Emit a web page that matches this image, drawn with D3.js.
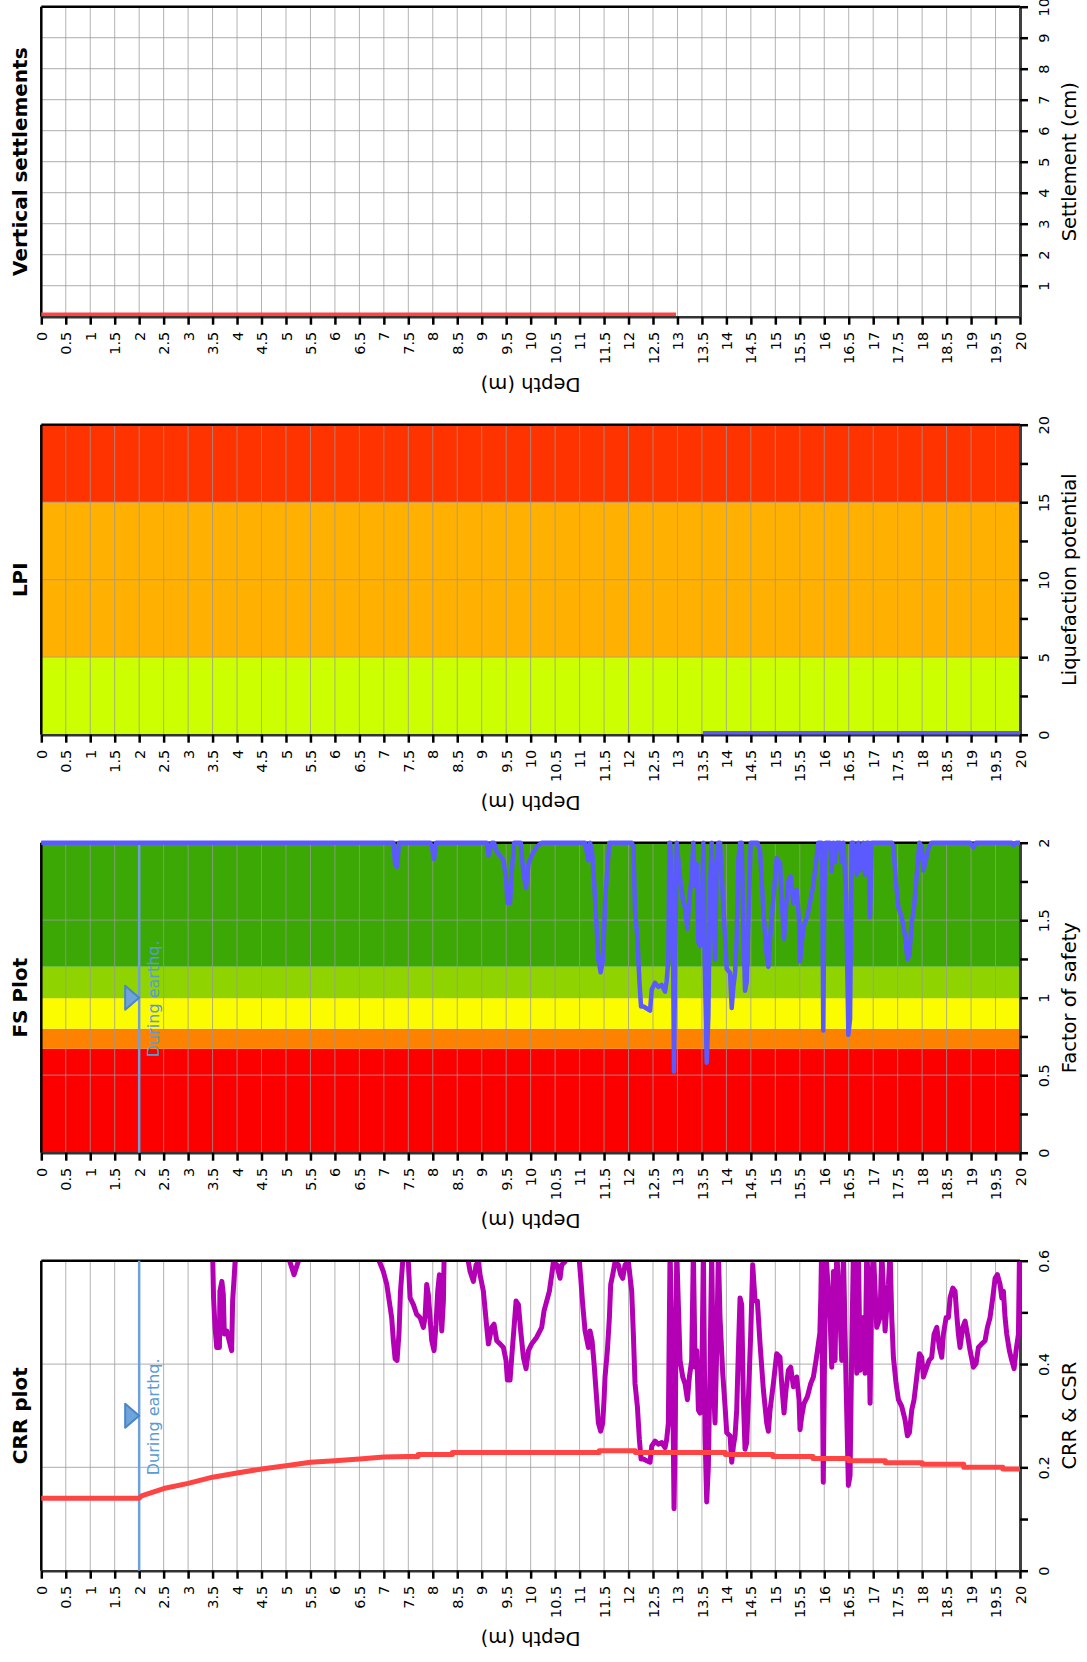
<!DOCTYPE html>
<html>
<head>
<meta charset="utf-8">
<script src="https://cdn.jsdelivr.net/npm/d3@7"></script>
<style>
  body { margin: 0; background: #fff; }
  svg { display: block; font-family: "DejaVu Sans", Verdana, sans-serif; }
</style>
</head>
<body>
<div id="chart"></div>
<script>
// ---- data ----
const depthTicks = [0, 0.5, 1, 1.5, 2, 2.5, 3, 3.5, 4, 4.5, 5, 5.5, 6, 6.5, 7, 7.5, 8, 8.5, 9, 9.5,
  10, 10.5, 11, 11.5, 12, 12.5, 13, 13.5, 14, 14.5, 15, 15.5, 16, 16.5, 17, 17.5, 18, 18.5, 19, 19.5, 20];

const settlementTicks = [1, 2, 3, 4, 5, 6, 7, 8, 9, 10];
const settlementDepth = [0, 12.97];
const settlementValue = [0.08, 0.08];

const lpiTicks = [0, 5, 10, 15, 20];
const lpiMinorTicks = [2.5, 7.5, 12.5, 17.5];
const lpiBandEdges = [0, 5, 15, 20];
const lpiBandColors = ["#ccff00", "#ffb000", "#ff3300"];
const lpiDepth = [13.52, 20];
const lpiValue = [0.13, 0.13];

const fsTicks = [0, 0.5, 1, 1.5, 2];
const fsMinorTicks = [0.25, 0.75, 1.25, 1.75];
const fsBandEdges = [0, 0.67, 0.8, 1.0, 1.2, 2];
const fsBandColors = ["#fc0000", "#fc8200", "#fcfc00", "#8fd400", "#3ca805"];
const fsMax = 2;

const crrTicks = [0, 0.2, 0.4, 0.6];
const crrMinorTicks = [0.1, 0.3, 0.5];

const quakeDepth = 2;

// CRR (purple), values above 0.6 run off the top of the plot
const crrDepth = [
  0, 3.50, 3.52, 3.55, 3.585, 3.64, 3.65, 3.69, 3.72, 3.74,
  3.79, 3.84, 3.89, 3.91, 3.94, 3.96, 3.98, 5.06, 5.08, 5.165,
  5.25, 5.27, 6.89, 6.91, 6.99, 7.06, 7.11, 7.16, 7.195, 7.23,
  7.27, 7.31, 7.34, 7.385, 7.40, 7.48, 7.50, 7.536, 7.604, 7.672,
  7.74, 7.808, 7.842, 7.876, 7.91, 7.944, 7.979, 8.026, 8.067, 8.101,
  8.135, 8.162, 8.183, 8.217, 8.23, 8.25, 8.71, 8.728, 8.762, 8.83,
  8.885, 8.93, 8.966, 9.034, 9.103, 9.137, 9.205, 9.252, 9.307, 9.375,
  9.443, 9.497, 9.525, 9.579, 9.613, 9.661, 9.702, 9.75, 9.797, 9.852,
  9.906, 9.954, 10.022, 10.124, 10.226, 10.274, 10.329, 10.383, 10.431, 10.465,
  10.533, 10.601, 10.635, 10.703, 10.72, 10.98, 10.996, 11.024, 11.064, 11.112,
  11.18, 11.214, 11.255, 11.296, 11.35, 11.384, 11.43, 11.473, 11.50, 11.52,
  11.568, 11.609, 11.636, 11.677, 11.725, 11.793, 11.84, 11.881, 11.929, 11.997,
  12.065, 12.099, 12.133, 12.181, 12.222, 12.256, 12.304, 12.372, 12.44, 12.474,
  12.542, 12.61, 12.678, 12.746, 12.78, 12.814, 12.835, 12.849, 12.903, 12.93,
  12.957, 12.985, 13.053, 13.107, 13.155, 13.203, 13.244, 13.291, 13.325, 13.36,
  13.394, 13.428, 13.462, 13.496, 13.53, 13.564, 13.598, 13.632, 13.666, 13.70,
  13.734, 13.768, 13.802, 13.836, 13.87, 13.925, 13.973, 14.007, 14.075, 14.109,
  14.143, 14.177, 14.211, 14.245, 14.279, 14.313, 14.347, 14.381, 14.415, 14.449,
  14.497, 14.538, 14.586, 14.633, 14.688, 14.756, 14.824, 14.858, 14.892, 14.96,
  15.028, 15.096, 15.13, 15.178, 15.219, 15.267, 15.314, 15.369, 15.437, 15.485,
  15.505, 15.539, 15.587, 15.655, 15.723, 15.778, 15.832, 15.88, 15.91, 15.93,
  15.945, 15.96, 15.98, 16.0, 16.03, 16.119, 16.153, 16.187, 16.221, 16.255,
  16.323, 16.357, 16.391, 16.446, 16.493, 16.527, 16.561, 16.596, 16.664, 16.698,
  16.732, 16.80, 16.834, 16.868, 16.902, 16.936, 16.97, 17.004, 17.072, 17.14,
  17.175, 17.243, 17.311, 17.345, 17.379, 17.413, 17.468, 17.515, 17.583, 17.651,
  17.699, 17.74, 17.788, 17.835, 17.89, 17.944, 17.992, 18.026, 18.094, 18.142,
  18.196, 18.244, 18.299, 18.353, 18.401, 18.435, 18.49, 18.537, 18.571, 18.626,
  18.673, 18.707, 18.741, 18.775, 18.83, 18.878, 18.925, 18.98, 19.048, 19.102,
  19.15, 19.218, 19.286, 19.334, 19.388, 19.443, 19.491, 19.538, 19.593, 19.627,
  19.661, 19.695, 19.729, 19.783, 19.831, 19.879, 19.92, 19.968, 19.99, 20.0
];
const crrValue = [
  0.62, 0.62, 0.528, 0.471, 0.432, 0.432, 0.541, 0.560, 0.534, 0.458,
  0.464, 0.445, 0.426, 0.522, 0.566, 0.598, 0.62, 0.62, 0.598, 0.573,
  0.598, 0.62, 0.62, 0.598, 0.579, 0.554, 0.522, 0.490, 0.445, 0.410,
  0.407, 0.46, 0.54, 0.598, 0.62, 0.62, 0.598, 0.528, 0.515, 0.496,
  0.490, 0.471, 0.490, 0.554, 0.534, 0.490, 0.445, 0.426, 0.477, 0.541,
  0.573, 0.528, 0.464, 0.522, 0.598, 0.62, 0.62, 0.598, 0.579, 0.560,
  0.592, 0.598, 0.573, 0.541, 0.471, 0.439, 0.471, 0.477, 0.445, 0.439,
  0.432, 0.407, 0.369, 0.369, 0.413, 0.471, 0.522, 0.515, 0.464, 0.413,
  0.391, 0.426, 0.439, 0.452, 0.471, 0.503, 0.522, 0.541, 0.573, 0.598,
  0.592, 0.566, 0.592, 0.598, 0.62, 0.62, 0.598, 0.566, 0.515, 0.464,
  0.432, 0.464, 0.445, 0.401, 0.331, 0.286, 0.270, 0.286, 0.331, 0.375,
  0.426, 0.490, 0.554, 0.573, 0.598, 0.592, 0.573, 0.566, 0.592, 0.598,
  0.541, 0.458, 0.362, 0.318, 0.254, 0.216, 0.216, 0.213, 0.210, 0.241,
  0.251, 0.245, 0.248, 0.238, 0.254, 0.286, 0.490, 0.62, 0.362, 0.120,
  0.299, 0.62, 0.407, 0.375, 0.362, 0.331, 0.375, 0.407, 0.62, 0.394,
  0.426, 0.311, 0.305, 0.362, 0.62, 0.261, 0.133, 0.203, 0.394, 0.62,
  0.362, 0.286, 0.426, 0.62, 0.490, 0.382, 0.318, 0.267, 0.261, 0.210,
  0.241, 0.261, 0.311, 0.426, 0.528, 0.515, 0.331, 0.235, 0.248, 0.331,
  0.458, 0.592, 0.522, 0.522, 0.439, 0.350, 0.286, 0.270, 0.311, 0.362,
  0.420, 0.413, 0.362, 0.305, 0.350, 0.388, 0.394, 0.356, 0.375, 0.331,
  0.273, 0.299, 0.324, 0.337, 0.362, 0.375, 0.407, 0.439, 0.46, 0.53,
  0.62, 0.40, 0.171, 0.36, 0.62, 0.490, 0.394, 0.579, 0.407, 0.62,
  0.490, 0.407, 0.62, 0.362, 0.165, 0.184, 0.426, 0.62, 0.382, 0.62,
  0.388, 0.490, 0.382, 0.62, 0.554, 0.324, 0.554, 0.62, 0.471, 0.490,
  0.62, 0.464, 0.554, 0.62, 0.490, 0.413, 0.362, 0.331, 0.318, 0.292,
  0.261, 0.267, 0.311, 0.331, 0.375, 0.420, 0.413, 0.375, 0.394, 0.407,
  0.413, 0.458, 0.471, 0.432, 0.413, 0.458, 0.490, 0.490, 0.528, 0.547,
  0.541, 0.496, 0.458, 0.432, 0.471, 0.483, 0.458, 0.426, 0.394, 0.401,
  0.432, 0.439, 0.445, 0.471, 0.490, 0.528, 0.566, 0.573, 0.554, 0.528,
  0.541, 0.490, 0.458, 0.426, 0.407, 0.391, 0.426, 0.458, 0.62, 0.62
];

// CSR (red), stepped
const csrDepth = [0, 2.0, 2.05, 2.5, 3.0, 3.5, 4.0, 4.5, 5.0, 5.5, 6.0, 6.5, 7.0, 7.5,
  7.7, 7.7, 8.4, 8.4, 11.4, 11.4, 12.14, 12.14, 13.98, 13.98, 14.95, 14.95,
  15.77, 15.77, 16.5, 16.5, 17.25, 17.25, 18.0, 18.0, 18.85, 18.85, 19.65, 19.65, 20];
const csrValue = [0.14, 0.14, 0.145, 0.159, 0.169, 0.181, 0.189, 0.197, 0.203, 0.21, 0.213, 0.216, 0.22, 0.221,
  0.221, 0.225, 0.225, 0.229, 0.229, 0.232, 0.232, 0.229, 0.229, 0.225, 0.225, 0.221,
  0.221, 0.217, 0.217, 0.213, 0.213, 0.209, 0.209, 0.206, 0.206, 0.2, 0.2, 0.197, 0.197];

// ---- helpers ----
function zipPts(a, b) {
  const n = Math.min(a.length, b.length);
  return d3.range(n).map(i => [a[i], b[i]]);
}
function csrAt(d) {
  const i = d3.bisectRight(csrDepth, d) - 1;
  if (i < 0) return csrValue[0];
  if (i >= csrDepth.length - 1) return csrValue[csrValue.length - 1];
  const d0 = csrDepth[i], d1 = csrDepth[i + 1];
  const t = d1 === d0 ? 0 : (d - d0) / (d1 - d0);
  return csrValue[i] + t * (csrValue[i + 1] - csrValue[i]);
}

const crrPts = zipPts(crrDepth, crrValue);
const csrPts = zipPts(csrDepth, csrValue);
// factor of safety = CRR / CSR, capped at the top of the plot
const fsPts = crrPts.map(p => [p[0], Math.min(fsMax, p[1] / csrAt(p[0]))]);

// ---- layout ----
const W = 1087, H = 1662;
const plotL = 41.3, plotR = 1020, plotH = 310;
const panelTop = [6.7, 424.7, 842.7, 1260.7];
const tickFont = 14.5;

const svg = d3.select("#chart").append("svg")
  .attr("width", W).attr("height", H);

const x = d3.scaleLinear().domain([0, 20]).range([plotL, plotR]);

function makeBands(edges, colors) {
  return colors.map((c, i) => ({from: edges[i], to: edges[i + 1], color: c}));
}

const panels = [
  {title: "Vertical settlements", yLabel: "Settlement (cm)", domain: [0, 10],
   labelTicks: settlementTicks, minorTicks: [], grid: settlementTicks.slice(0, -1),
   series: [{pts: zipPts(settlementDepth, settlementValue), color: "#ff4444", width: 3.5}]},
  {title: "LPI", yLabel: "Liquefaction potential", domain: [0, 20],
   labelTicks: lpiTicks, minorTicks: lpiMinorTicks, grid: [5, 10, 15],
   bands: makeBands(lpiBandEdges, lpiBandColors),
   series: [{pts: zipPts(lpiDepth, lpiValue), color: "#5a5aff", width: 3.5}]},
  {title: "FS Plot", yLabel: "Factor of safety", domain: [0, 2],
   labelTicks: fsTicks, minorTicks: fsMinorTicks, grid: [0.5, 1, 1.5],
   bands: makeBands(fsBandEdges, fsBandColors), quake: true,
   series: [{pts: fsPts, color: "#5a5aff", width: 4.5}]},
  {title: "CRR plot", yLabel: "CRR & CSR", domain: [0, 0.6],
   labelTicks: crrTicks, minorTicks: crrMinorTicks, grid: [0.2, 0.4], quake: true, clip: true,
   series: [{pts: crrPts, color: "#b400b4", width: 5}, {pts: csrPts, color: "#ff4444", width: 5}]}
];

panels.forEach((p, i) => {
  const top = panelTop[i], bottom = top + plotH, mid = (top + bottom) / 2;
  const y = d3.scaleLinear().domain(p.domain).range([bottom, top]);
  const g = svg.append("g");

  // coloured background bands
  if (p.bands) {
    g.selectAll("rect.band").data(p.bands).join("rect")
      .attr("class", "band")
      .attr("x", plotL).attr("width", plotR - plotL)
      .attr("y", d => y(d.to)).attr("height", d => y(d.from) - y(d.to))
      .attr("fill", d => d.color);
  }

  // grid
  g.selectAll("line.vgrid").data(depthTicks.slice(1, -1)).join("line")
    .attr("class", "vgrid")
    .attr("x1", d => x(d)).attr("x2", d => x(d))
    .attr("y1", top).attr("y2", bottom)
    .attr("stroke", "#9a9a9a").attr("stroke-opacity", 0.75).attr("stroke-width", 1);
  g.selectAll("line.hgrid").data(p.grid).join("line")
    .attr("class", "hgrid")
    .attr("x1", plotL).attr("x2", plotR)
    .attr("y1", d => y(d)).attr("y2", d => y(d))
    .attr("stroke", "#9a9a9a").attr("stroke-opacity", 0.65).attr("stroke-width", 1.2);

  // frame (top + left)
  g.append("line").attr("x1", plotL).attr("x2", plotR).attr("y1", top).attr("y2", top)
    .attr("stroke", "#000").attr("stroke-width", 2.5);
  g.append("line").attr("x1", plotL).attr("x2", plotL).attr("y1", top).attr("y2", bottom)
    .attr("stroke", "#000").attr("stroke-width", 2.5);

  // depth axis (bottom)
  const ax = g.append("g").attr("transform", `translate(0,${bottom})`)
    .call(d3.axisBottom(x).tickValues(depthTicks).tickFormat(d => String(d))
      .tickSize(8).tickSizeOuter(0));
  ax.attr("font-family", null).attr("font-size", tickFont);
  ax.select(".domain").attr("stroke", "#333").attr("stroke-width", 2.5);
  ax.selectAll(".tick line").attr("stroke", "#000").attr("stroke-width", 2.5);
  ax.selectAll(".tick text")
    .attr("transform", "rotate(-90)")
    .attr("x", -15).attr("y", 0).attr("dy", "0.35em")
    .attr("text-anchor", "end").attr("fill", "#000");

  // value axis (right)
  const allTicks = p.labelTicks.concat(p.minorTicks).sort((a, b) => a - b);
  const ay = g.append("g").attr("transform", `translate(${plotR},0)`)
    .call(d3.axisRight(y).tickValues(allTicks)
      .tickFormat(d => p.labelTicks.includes(d) ? String(d) : "")
      .tickSize(8).tickSizeOuter(0));
  ay.attr("font-family", null).attr("font-size", tickFont);
  ay.select(".domain").attr("stroke", "#404040").attr("stroke-width", 3);
  ay.selectAll(".tick line").attr("stroke", "#000").attr("stroke-width", 2.5);
  ay.selectAll(".tick text")
    .attr("transform", "rotate(-90)")
    .attr("x", 0).attr("y", 29).attr("dy", 0)
    .attr("text-anchor", "middle").attr("fill", "#000");

  // "During earthq." water table line
  if (p.quake) {
    g.append("line")
      .attr("x1", x(quakeDepth)).attr("x2", x(quakeDepth))
      .attr("y1", top).attr("y2", bottom)
      .attr("stroke", "#6fa0dc").attr("stroke-width", 2.5);
  }

  // data lines
  let lg = g.append("g");
  if (p.clip) {
    const id = "clip" + i;
    svg.append("clipPath").attr("id", id).append("rect")
      .attr("x", plotL - 5).attr("y", top + 1)
      .attr("width", plotR - plotL + 10).attr("height", plotH + 5);
    lg.attr("clip-path", `url(#${id})`);
  }
  const line = d3.line().x(d => x(d[0])).y(d => y(d[1]));
  p.series.forEach(s => {
    lg.append("path").datum(s.pts)
      .attr("d", line)
      .attr("fill", "none")
      .attr("stroke", s.color)
      .attr("stroke-width", s.width)
      .attr("stroke-linejoin", "round");
  });

  // water table marker + label
  if (p.quake) {
    const xq = x(quakeDepth);
    g.append("path")
      .attr("d", `M${xq},${mid}L${xq - 14},${mid - 12}L${xq - 14},${mid + 12}Z`)
      .attr("fill", "#6fa3dc").attr("stroke", "#4a86c8")
      .attr("stroke-width", 2).attr("stroke-linejoin", "round");
    g.append("text")
      .attr("transform", `translate(${xq + 19.5},${mid + 59.5}) rotate(-90)`)
      .attr("text-anchor", "start")
      .attr("font-size", 16).attr("fill", "#5b9bd5")
      .text("During earthq.");
  }

  // titles
  g.append("text")
    .attr("transform", `translate(27,${mid}) rotate(-90)`)
    .attr("text-anchor", "middle").attr("font-size", 20).attr("font-weight", "bold")
    .attr("fill", "#000")
    .text(p.title);
  g.append("text")
    .attr("transform", `translate(1076,${mid}) rotate(-90)`)
    .attr("text-anchor", "middle").attr("font-size", 19.5).attr("fill", "#000")
    .text(p.yLabel);
  g.append("text")
    .attr("transform", `translate(${(plotL + plotR) / 2},${bottom + 61}) rotate(180)`)
    .attr("text-anchor", "middle").attr("font-size", 19.5).attr("fill", "#000")
    .text("Depth (m)");
});
</script>
</body>
</html>
